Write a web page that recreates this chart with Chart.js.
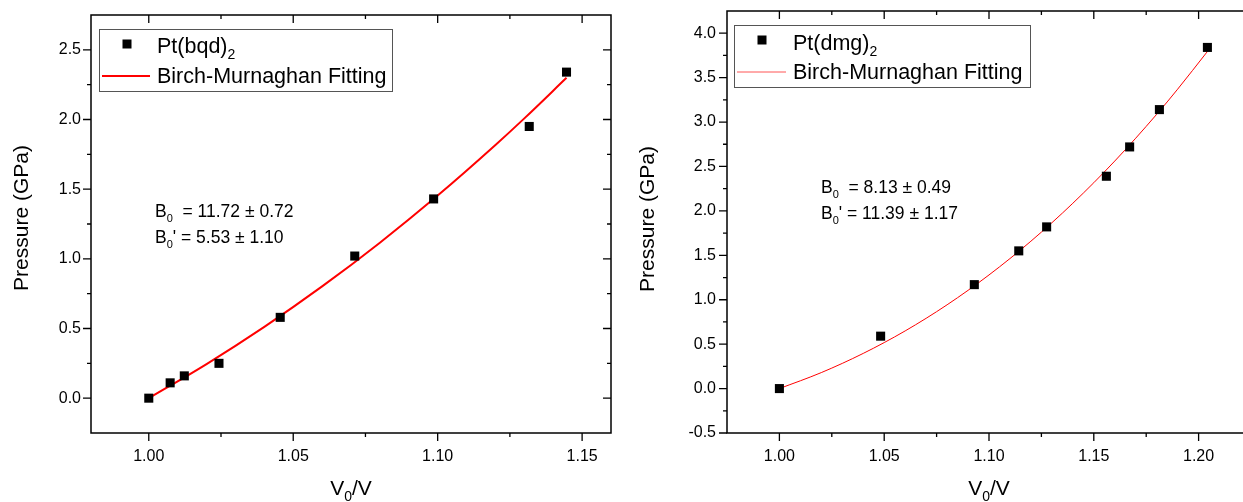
<!DOCTYPE html>
<html>
<head>
<meta charset="utf-8">
<title>Birch-Murnaghan fits</title>
<script src="https://cdn.jsdelivr.net/npm/chart.js@4.4.0/dist/chart.umd.min.js"></script>
<style>
  html, body { margin: 0; padding: 0; background: #fff; overflow: hidden; }
  #wrap { position: relative; width: 1243px; height: 502px; }
  .box { position: absolute; top: 0; height: 502px; }
  #boxL { left: 0; width: 620px; }
  #boxR { left: 630px; width: 630px; }
</style>
</head>
<body>
<div id="wrap">
  <div class="box" id="boxL"><canvas id="chartL"></canvas></div>
  <div class="box" id="boxR"><canvas id="chartR"></canvas></div>
</div>
<script>
// Pt(bqd)2 : measured points (V0/V, GPa)
const bqdV = [1.000, 1.0074, 1.0123, 1.0243, 1.0455, 1.0713, 1.0986, 1.1317, 1.1446];
const bqdP = [0.00, 0.11, 0.16, 0.25, 0.58, 1.02, 1.43, 1.95, 2.34];
// red fit line
const bqdFitV = [1.00, 1.02, 1.04, 1.06, 1.08, 1.10, 1.12, 1.13, 1.1446];
const bqdFitP = [0.000, 0.245, 0.512, 0.802, 1.116, 1.454, 1.817, 2.008, 2.299];

// Pt(dmg)2
const dmgV = [1.000, 1.0483, 1.0930, 1.1142, 1.1275, 1.1560, 1.1671, 1.1813, 1.2042];
const dmgP = [0.00, 0.59, 1.17, 1.55, 1.82, 2.39, 2.72, 3.14, 3.84];
const dmgFitV = [1.00, 1.02, 1.04, 1.06, 1.08, 1.10, 1.12, 1.14, 1.16, 1.18, 1.19, 1.2042];
const dmgFitP = [0.000, 0.180, 0.396, 0.649, 0.943, 1.279, 1.659, 2.086, 2.561, 3.087, 3.370, 3.794];

// tick positions (major ones get labels)
const bqdXTicks = [1.00, 1.025, 1.05, 1.075, 1.10, 1.125, 1.15];
const bqdYTicks = [0.0, 0.25, 0.5, 0.75, 1.0, 1.25, 1.5, 1.75, 2.0, 2.25, 2.5];
const dmgXTicks = [1.00, 1.025, 1.05, 1.075, 1.10, 1.125, 1.15, 1.175, 1.20];
const dmgYTicks = [-0.5, -0.25, 0.0, 0.25, 0.5, 0.75, 1.0, 1.25, 1.5, 1.75, 2.0, 2.25, 2.5, 2.75, 3.0, 3.25, 3.5, 3.75, 4.0];

// fit results written in the plots
const bqdFitText = [['11.72', '0.72'], ['5.53', '1.10']];
const dmgFitText = [['8.13', '0.49'], ['11.39', '1.17']];

const FONT = '"Liberation Sans", Arial, sans-serif';

function isMajor(v, step) {
    const r = v / step;
    return Math.abs(r - Math.round(r)) < 1e-6;
}

function pts(xs, ys) {
    return xs.map((x, i) => ({x: x, y: ys[i]}));
}

// text with subscripts: parts = [[text, sub?], ...]
function richWidth(ctx, parts, size) {
    let w = 0;
    parts.forEach(p => {
        ctx.font = (p[1] ? Math.round(size * 0.65) : size) + 'px ' + FONT;
        w += ctx.measureText(p[0]).width;
    });
    return w;
}
function drawRich(ctx, parts, x, y, size) {
    parts.forEach(p => {
        const s = p[1] ? Math.round(size * 0.65) : size;
        ctx.font = s + 'px ' + FONT;
        ctx.fillText(p[0], x, p[1] ? y + size * 0.28 : y);
        x += ctx.measureText(p[0]).width;
    });
}

// axis frame, mirrored ticks, titles, legend box and fit text
const framePlugin = {
    id: 'frame',
    afterDraw(chart, args, o) {
        const ctx = chart.ctx;
        const a = chart.chartArea;
        const xs = chart.scales.x, ys = chart.scales.y;
        ctx.save();
        ctx.strokeStyle = '#000';
        ctx.lineWidth = 1.5;
        ctx.strokeRect(a.left, a.top, a.right - a.left, a.bottom - a.top);
        ctx.lineWidth = 1.3;
        ctx.beginPath();
        xs.ticks.forEach(t => {
            const px = xs.getPixelForValue(t.value);
            const len = isMajor(t.value, o.xStep) ? 8 : 4;
            ctx.moveTo(px, a.bottom); ctx.lineTo(px, a.bottom + len);
            ctx.moveTo(px, a.top); ctx.lineTo(px, a.top + len);
        });
        ys.ticks.forEach(t => {
            const py = ys.getPixelForValue(t.value);
            const len = isMajor(t.value, o.yStep) ? 8 : 4;
            ctx.moveTo(a.left, py); ctx.lineTo(a.left - len, py);
            ctx.moveTo(a.right, py); ctx.lineTo(a.right - len, py);
        });
        ctx.stroke();

        ctx.fillStyle = '#000';
        ctx.textBaseline = 'alphabetic';
        ctx.textAlign = 'left';
        // x title
        const xt = [['V', false], ['0', true], ['/V', false]];
        const cx = (a.left + a.right) / 2;
        drawRich(ctx, xt, cx - richWidth(ctx, xt, 21) / 2, o.xTitleY, 21);
        // y title
        ctx.save();
        ctx.translate(o.yTitleX, o.yTitleY);
        ctx.rotate(-Math.PI / 2);
        ctx.font = '21px ' + FONT;
        ctx.textAlign = 'center';
        ctx.textBaseline = 'middle';
        ctx.fillText('Pressure (GPa)', 0, 0);
        ctx.restore();

        // legend
        const L = o.legend;
        ctx.fillStyle = '#fff';
        ctx.fillRect(L.box[0], L.box[1], L.box[2], L.box[3]);
        ctx.strokeStyle = '#555';
        ctx.lineWidth = 1;
        ctx.strokeRect(L.box[0] + 0.5, L.box[1] + 0.5, L.box[2], L.box[3]);
        ctx.fillStyle = '#000';
        ctx.fillRect(L.marker[0] - 4.5, L.marker[1] - 4.5, 9, 9);
        ctx.strokeStyle = L.lineColor;
        ctx.lineWidth = L.lineWidth;
        ctx.beginPath();
        ctx.moveTo(L.line[0], L.line[2]); ctx.lineTo(L.line[1], L.line[2]);
        ctx.stroke();
        ctx.textAlign = 'left';
        drawRich(ctx, [[L.name, false], ['2', true]], L.textX, L.rows[0], 21.5);
        drawRich(ctx, [['Birch-Murnaghan Fitting', false]], L.textX, L.rows[1], 21.5);

        // fit results
        const T = o.fitText;
        drawRich(ctx, [['B', false], ['0', true], ['  = ' + T.vals[0][0] + ' \u00b1 ' + T.vals[0][1], false]], T.x, T.rows[0], 17.5);
        drawRich(ctx, [['B', false], ['0', true], ["' = " + T.vals[1][0] + ' \u00b1 ' + T.vals[1][1], false]], T.x, T.rows[1], 17.5);
        ctx.restore();
    }
};

function makeChart(id, cfg) {
    const ctx = document.getElementById(id).getContext('2d');
    return new Chart(ctx, {
        type: 'scatter',
        data: {
            datasets: [{
                label: cfg.name,
                data: pts(cfg.v, cfg.p),
                pointStyle: 'rect',
                pointRadius: 6.4,
                pointBorderWidth: 0,
                backgroundColor: '#000',
                borderColor: '#000',
                showLine: false
            }, {
                label: 'Birch-Murnaghan Fitting',
                data: pts(cfg.fitV, cfg.fitP),
                showLine: true,
                pointRadius: 0,
                borderColor: '#ff0000',
                borderWidth: cfg.fitWidth,
                cubicInterpolationMode: 'monotone'
            }]
        },
        options: {
            responsive: true,
            maintainAspectRatio: false,
            animation: false,
            layout: {padding: {top: cfg.padTop, right: cfg.padRight, left: 0, bottom: 0}},
            plugins: {
                legend: {display: false},
                tooltip: {enabled: false},
                frame: cfg.frame
            },
            scales: {
                x: {
                    type: 'linear',
                    min: cfg.xMin, max: cfg.xMax,
                    grid: {display: false, drawTicks: false},
                    border: {display: false},
                    afterBuildTicks: s => { s.ticks = cfg.xTicks.map(v => ({value: v})); },
                    ticks: {
                        autoSkip: false, maxRotation: 0, padding: 14,
                        color: '#000', font: {family: FONT, size: 16},
                        callback: v => isMajor(v, 0.05) ? v.toFixed(2) : ''
                    },
                    afterFit: s => { s.height = 502 - cfg.plotBottom; s.paddingLeft = 0; s.paddingRight = 0; }
                },
                y: {
                    type: 'linear',
                    min: cfg.yMin, max: cfg.yMax,
                    grid: {display: false, drawTicks: false},
                    border: {display: false},
                    afterBuildTicks: s => { s.ticks = cfg.yTicks.map(v => ({value: v})); },
                    ticks: {
                        autoSkip: false, padding: cfg.yPad,
                        color: '#000', font: {family: FONT, size: 16},
                        callback: v => isMajor(v, 0.5) ? v.toFixed(1) : ''
                    },
                    afterFit: s => { s.width = cfg.plotLeft; s.paddingTop = 0; s.paddingBottom = 0; }
                }
            }
        },
        plugins: [framePlugin]
    });
}

makeChart('chartL', {
    name: 'Pt(bqd)', v: bqdV, p: bqdP, fitV: bqdFitV, fitP: bqdFitP, fitWidth: 2,
    xTicks: bqdXTicks, yTicks: bqdYTicks,
    xMin: 0.98, xMax: 1.16, yMin: -0.25, yMax: 2.75,
    padTop: 15, padRight: 9, plotLeft: 91, plotBottom: 433, yPad: 10,
    frame: {
        xStep: 0.05, yStep: 0.5, xTitleY: 495, yTitleX: 22, yTitleY: 218,
        legend: {box: [99, 29, 293, 62], marker: [127, 44], line: [102, 150, 76],
                 lineColor: '#ff0000', lineWidth: 2, name: 'Pt(bqd)', textX: 157, rows: [53, 83]},
        fitText: {x: 155, rows: [217, 243], vals: bqdFitText}
    }
});

makeChart('chartR', {
    name: 'Pt(dmg)', v: dmgV, p: dmgP, fitV: dmgFitV, fitP: dmgFitP, fitWidth: 1,
    xTicks: dmgXTicks, yTicks: dmgYTicks,
    xMin: 0.975, xMax: 1.225, yMin: -0.5, yMax: 4.25,
    padTop: 11, padRight: 9, plotLeft: 97, plotBottom: 433, yPad: 11,
    frame: {
        xStep: 0.05, yStep: 0.5, xTitleY: 495, yTitleX: 18, yTitleY: 219,
        legend: {box: [104, 25, 296, 62], marker: [132, 40], line: [107, 156, 72],
                 lineColor: '#ff5555', lineWidth: 1, name: 'Pt(dmg)', textX: 163, rows: [50, 79]},
        fitText: {x: 191, rows: [193, 219], vals: dmgFitText}
    }
});
</script>
</body>
</html>
